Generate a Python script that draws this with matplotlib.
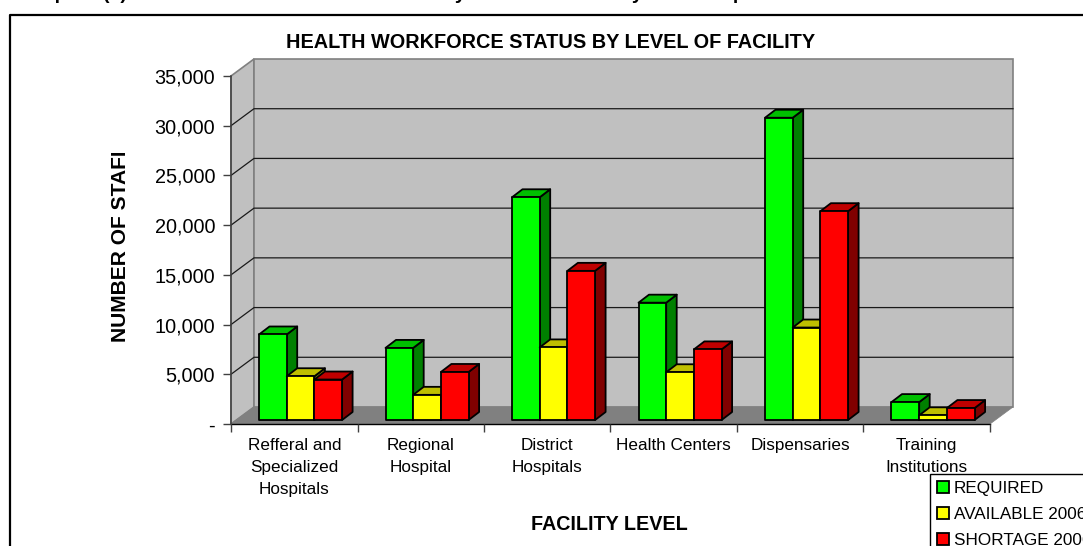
import numpy as np
import matplotlib as mpl
import matplotlib.pyplot as plt
from matplotlib.lines import Line2D
from matplotlib.patches import Patch, Polygon
from matplotlib.ticker import FuncFormatter
from matplotlib.transforms import Bbox

mpl.rc('font', family=['Liberation Sans', 'DejaVu Sans'])

categories = ['Refferal and\nSpecialized\nHospitals', 'Regional\nHospital', 'District\nHospitals',
              'Health Centers', 'Dispensaries', 'Training\nInstitutions']
required = [8600, 7250, 22400, 11800, 30400, 1800]
available = [4400, 2530, 7300, 4800, 9300, 470]
shortage = [4070, 4830, 15000, 7100, 21000, 1200]
series_names = ['REQUIRED', 'AVAILABLE 2006', 'SHORTAGE 2006']
yticks = [0, 5000, 10000, 15000, 20000, 25000, 30000, 35000]

W, H = 1083, 546
series = [required, available, shortage]
front = ['#00FF00', '#FFFF00', '#FF0000']
top = ['#00BF00', '#BFBF00', '#BF0000']
side = ['#008000', '#808000', '#800000']

fig = plt.figure(figsize=(W/100, H/100), dpi=100, facecolor='w')


def fx(px):
    return px/W


def fy(py):
    return 1 - py/H


# front plane of the 3d box, in pixels
L, R, T, B = 231, 990, 76, 424
ax = fig.add_axes([fx(L), fy(B), (R-L)/W, (B-T)/H])
ax.set_xlim(0, 6)
ax.set_ylim(0, 35000)
ax.patch.set_visible(False)
for s in ['top', 'right']:
    ax.spines[s].set_visible(False)
ax.spines['left'].set_color('#404040')
ax.spines['left'].set_linewidth(1.1)
ax.spines['bottom'].set_color('k')
ax.spines['bottom'].set_linewidth(1.0)
ax.spines['left'].set_zorder(6)
ax.spines['bottom'].set_zorder(1.5)

px_x = 6.0/(R-L)
px_y = 35000.0/(B-T)
dx = 23*px_x
dy = 17*px_y

# walls and floor
ax.add_patch(Polygon([(0, 0), (dx, dy), (dx, 35000+dy), (0, 35000)], fc='#C0C0C0', ec='#808080', lw=1.2, zorder=1, clip_on=False))
ax.add_patch(Polygon([(dx, dy), (6+dx, dy), (6+dx, 35000+dy), (dx, 35000+dy)], fc='#C0C0C0', ec='#808080', lw=1.2, zorder=1, clip_on=False))
ax.add_patch(Polygon([(0, 0), (6, 0), (6+dx, dy), (dx, dy)], fc='#808080', ec='#808080', lw=0.5, zorder=1.2, clip_on=False))

for v in yticks[1:-1]:
    ax.plot([0, dx, 6+dx], [v, v+dy, v+dy], color='#1a1a1a', lw=0.9, zorder=1.4, clip_on=False)

# bars
bar_w = 27.7*px_x
bar_off = 28*px_x
base = 4*px_y
ddx = 10.5*px_x
ddy = 8*px_y
for i in range(len(categories)):
    for j, vals in enumerate(series):
        x0 = i + bar_off + j*bar_w
        x1 = x0 + bar_w
        y1 = base + vals[i]
        z = 3 + i + j*0.1
        ax.add_patch(Polygon([(x1, base), (x1+ddx, base+ddy), (x1+ddx, y1+ddy), (x1, y1)],
                             fc=side[j], ec='k', lw=1.3, zorder=z, clip_on=False, joinstyle='round'))
        ax.add_patch(Polygon([(x0, y1), (x1, y1), (x1+ddx, y1+ddy), (x0+ddx, y1+ddy)],
                             fc=top[j], ec='k', lw=1.3, zorder=z, clip_on=False, joinstyle='round'))
        ax.add_patch(Polygon([(x0, base), (x1, base), (x1, y1), (x0, y1)],
                             fc=front[j], ec='k', lw=1.3, zorder=z+0.01, clip_on=False, joinstyle='round'))

# axes ticks
ax.set_yticks(yticks)
ax.yaxis.set_major_formatter(FuncFormatter(lambda v, p: '-' if v == 0 else format(int(v), ',')))
ax.tick_params(axis='y', length=6, width=1, color='#404040', labelsize=14.3, pad=5.5)
ax.set_xticks(np.arange(0, 7))
ax.set_xticklabels([])
ax.tick_params(axis='x', which='major', length=6, width=1, color='#404040')
ax.set_xticks(np.arange(0.5, 6.5), minor=True)
ax.set_xticklabels(categories, minor=True, fontsize=12.3, linespacing=1.58)
ax.tick_params(axis='x', which='minor', length=0, pad=10)

# titles
fig.text(fx(550.5), fy(43), 'HEALTH WORKFORCE STATUS BY LEVEL OF FACILITY', fontsize=14.3, fontweight='bold',
         ha='center', va='center')
fig.text(fx(609), fy(524), 'FACILITY LEVEL', fontsize=14.2, fontweight='bold', ha='center', va='center')
ylab = fig.text(fx(120), fy(342), 'NUMBER OF STAFF', fontsize=15.1, fontweight='bold', rotation=90,
                ha='center', va='bottom')
ylab.set_clip_box(Bbox([[0, 0], [W, H-153]]))
ylab.set_clip_on(True)

# heading above the frame, only its descenders are inside the page
for word, xpos in [('Graph', 21), ('(4):', 103), ('by', 444), ('by', 621), ('Occupation', 684)]:
    fig.text(fx(xpos), fy(-1), word, fontsize=14, fontweight='bold', ha='left', va='baseline', clip_on=False)

# frame, runs off the page right and below
fig.add_artist(Line2D([fx(9.5), fx(9.5), 1], [0, fy(14.5), fy(14.5)], color='k', lw=1.6))

handles = [Patch(fc=front[k], ec='k', lw=1.3, label=series_names[k]) for k in range(3)]
leg = fig.legend(handles=handles, loc='upper left', bbox_to_anchor=(fx(930), fy(474)), borderaxespad=0,
                 fontsize=12.3, fancybox=False, framealpha=1, edgecolor='k', handlelength=0.7, handleheight=0.7,
                 handletextpad=0.3, labelspacing=0.66, borderpad=0.4)
leg.get_frame().set_linewidth(1.0)
leg.set_zorder(20)

plt.savefig('out.png', dpi=100)
